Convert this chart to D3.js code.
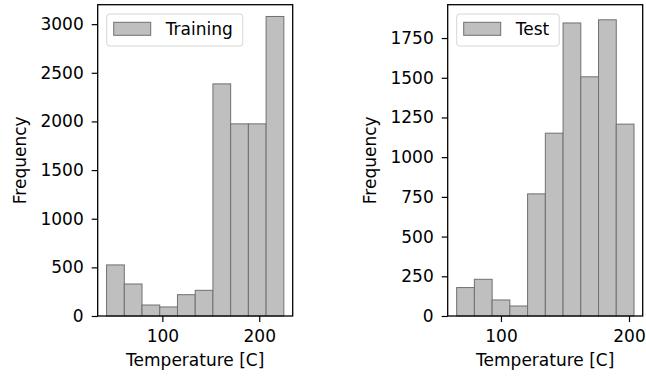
<!DOCTYPE html>
<html>
<head>
<meta charset="utf-8">
<script src="https://cdn.jsdelivr.net/npm/d3@7"></script>
<style>
  body { margin: 0; background: #fff; }
  text { font-family: "DejaVu Sans", sans-serif; }
</style>
</head>
<body>
<div id="chart"></div>
<script>
// Histogram data (bin edges in C, counts)
var trainEdges = [42.4, 60.7, 79.0, 97.3, 115.6, 133.9, 152.2, 170.5, 188.8, 207.1, 225.4];
var trainCounts = [525, 329, 113, 93, 219, 264, 2386, 1975, 1975, 3079];
var testEdges = [65.4, 79.25, 93.1, 106.95, 120.8, 134.65, 148.5, 162.35, 176.2, 190.05, 203.9];
var testCounts = [179, 231, 101, 63, 769, 1151, 1845, 1506, 1865, 1208];

var trainYTicks = [0, 500, 1000, 1500, 2000, 2500, 3000];
var testYTicks = [0, 250, 500, 750, 1000, 1250, 1500, 1750];
var xTicks = [100, 200];

var width = 646, height = 380;

var svg = d3.select("#chart")
    .append("svg")
    .attr("width", width)
    .attr("height", height);

function drawHist(opts) {
  var x = d3.scaleLinear()
    .domain(opts.xDomain)
    .range([opts.left, opts.left + 195]);
  var y = d3.scaleLinear()
    .domain([0, opts.yMax])
    .range([316, 4.7]);

  var g = svg.append("g");

  // bars
  var bins = opts.counts.map(function(c, i) {
    return { x0: opts.edges[i], x1: opts.edges[i + 1], count: c };
  });
  g.selectAll("rect.bar")
    .data(bins)
    .enter().append("rect")
      .attr("class", "bar")
      .attr("x", function(d) { return x(d.x0); })
      .attr("y", function(d) { return y(d.count); })
      .attr("width", function(d) { return x(d.x1) - x(d.x0); })
      .attr("height", function(d) { return y(0) - y(d.count); })
      .attr("fill", "#bfbfbf")
      .attr("stroke", "#707070")
      .attr("stroke-width", 1);

  // axes
  var xAxis = g.append("g")
    .attr("transform", "translate(0,316)")
    .call(d3.axisBottom(x).tickValues(xTicks).tickFormat(d3.format("d"))
      .tickSize(6).tickSizeOuter(0).tickPadding(8));
  var yAxis = g.append("g")
    .attr("transform", "translate(" + opts.left + ",0)")
    .call(d3.axisLeft(y).tickValues(opts.yTicks).tickFormat(d3.format("d"))
      .tickSize(6).tickSizeOuter(0).tickPadding(8));

  [xAxis, yAxis].forEach(function(a) {
    a.select(".domain").remove();
    a.selectAll("line").attr("stroke", "#000").attr("stroke-width", 1.2);
    a.selectAll("text").attr("fill", "#000").style("font-size", "17px").style("font-family", "DejaVu Sans");
  });

  // frame
  g.append("rect")
    .attr("x", x.range()[0])
    .attr("y", y.range()[1])
    .attr("width", x.range()[1] - x.range()[0])
    .attr("height", y.range()[0] - y.range()[1])
    .attr("fill", "none")
    .attr("stroke", "#000")
    .attr("stroke-width", 1.3);

  // axis labels
  g.append("text")
    .attr("x", (x.range()[0] + x.range()[1]) / 2)
    .attr("y", 366)
    .attr("text-anchor", "middle")
    .style("font-size", "17px")
    .text("Temperature [C]");
  g.append("text")
    .attr("transform", "translate(" + (opts.left - 72) + ",160.3) rotate(-90)")
    .attr("text-anchor", "middle")
    .style("font-size", "17px")
    .text("Frequency");

  // legend
  var lx = opts.left + 9, ly = 14;
  var box = g.append("rect")
    .attr("x", lx).attr("y", ly)
    .attr("height", 32)
    .attr("rx", 3)
    .attr("fill", "#fff")
    .attr("fill-opacity", 0.8)
    .attr("stroke", "#d6d6d6")
    .attr("stroke-width", 1);
  g.append("rect")
    .attr("x", lx + 7).attr("y", ly + 8.3)
    .attr("width", 37).attr("height", 13)
    .attr("fill", "#bfbfbf")
    .attr("stroke", "#707070")
    .attr("stroke-width", 1);
  var lt = g.append("text")
    .attr("x", lx + 59)
    .attr("y", ly + 21)
    .style("font-size", "17px")
    .text(opts.name);
  box.attr("width", 59 + lt.node().getComputedTextLength() + 10);
}

drawHist({ name: "Training", left: 97.7, xDomain: [33.25, 234.55], yMax: 3200,
  edges: trainEdges, counts: trainCounts, yTicks: trainYTicks });
drawHist({ name: "Test", left: 447.7, xDomain: [58.4, 210.7], yMax: 1960,
  edges: testEdges, counts: testCounts, yTicks: testYTicks });
</script>
</body>
</html>
